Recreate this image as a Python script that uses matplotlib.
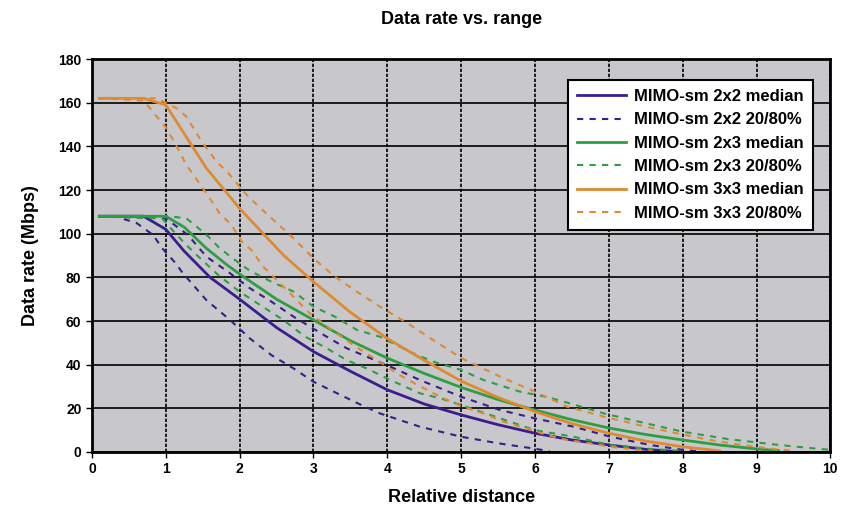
import matplotlib.pyplot as plt

plt.rcParams['font.family'] = ['Liberation Sans', 'DejaVu Sans']
plt.rcParams['font.weight'] = 'bold'

# 2x2
x22_med = [0.1, 0.7, 1.0, 1.25, 1.6, 2.0, 2.5, 3.0, 3.5, 4.0, 4.5, 5.0, 5.5, 6.0, 6.5, 7.0, 7.5, 8.0]
y22_med = [108, 108, 102, 92, 80, 70, 57, 46, 37, 28.5, 22, 17, 12.5, 8.6, 5.5, 3.2, 1.2, 0]
x22_lo = [0.1, 0.3, 0.6, 0.83, 0.95, 1.12, 1.23, 1.55, 1.87, 2.14, 2.43, 2.73, 3.0, 3.32, 3.6, 3.9, 4.44, 5.0, 5.5, 6.0, 6.2]
y22_lo = [108, 108, 105, 99.4, 93.4, 87, 82, 69.6, 60.5, 52, 44.4, 38.3, 32.2, 26.9, 22.3, 17.7, 11.6, 7, 4, 1.5, 0.3]
x22_hi = [0.1, 1.0, 1.3, 1.55, 1.87, 2.14, 2.43, 2.73, 3.18, 3.45, 3.72, 4.04, 4.44, 5.0, 5.53, 6.0, 6.52, 7.02, 7.56, 8.0, 8.2]
y22_hi = [108, 107, 99.4, 89.5, 81.9, 75, 68.9, 62, 52.8, 47.5, 43.7, 39.1, 33, 25.3, 19.2, 15.4, 11.6, 7, 3.2, 1, 0.3]

# 2x3
x23_med = [0.1, 1.0, 1.25, 1.55, 1.83, 2.0, 2.5, 3.0, 3.5, 4.0, 4.5, 5.0, 5.5, 6.0, 6.5, 7.0, 7.5, 8.0, 8.5, 9.0, 9.3]
y23_med = [108, 108, 103, 93.3, 85.7, 81.5, 70, 60.5, 51, 43, 36, 29.6, 24, 19.2, 14.8, 11, 8, 5.5, 3.2, 1.4, 0.6]
x23_lo = [0.1, 0.95, 1.15, 1.28, 1.42, 1.71, 2.0, 2.28, 2.59, 2.89, 3.18, 3.45, 3.72, 4.04, 4.44, 4.72, 5.0, 5.53, 6.0, 6.52, 7.02, 7.56, 8.0]
y23_lo = [108, 107, 99.4, 94.8, 90.2, 81.1, 73.4, 67.3, 60.5, 52.8, 47.5, 42.1, 38.3, 33, 26.9, 24.6, 21.5, 15.4, 10, 7, 3.2, 1.4, 0.5]
x23_hi = [0.1, 1.05, 1.28, 1.42, 1.58, 1.71, 1.85, 2.0, 2.14, 2.43, 2.73, 3.0, 3.29, 3.59, 3.9, 4.35, 4.62, 5.0, 5.3, 5.8, 6.15, 6.5, 6.93, 7.47, 8.0, 8.64, 9.23, 9.82, 10.0]
y23_hi = [108, 108, 107, 103.2, 98.6, 94, 90.2, 86.4, 83, 78, 73.5, 66.6, 62, 55.9, 52.8, 45.2, 41.4, 37.6, 33, 27.6, 25.3, 22, 17.7, 13.4, 9.3, 5.8, 3.5, 1.5, 1]

# 3x3
x33_med = [0.1, 0.7, 1.0, 1.55, 2.0, 2.32, 2.6, 3.0, 3.5, 4.0, 4.5, 5.0, 5.5, 6.0, 6.5, 7.0, 7.5, 8.0, 8.5]
y33_med = [162, 162, 159, 130, 111.6, 100, 90, 78, 64, 52, 42, 32.5, 25, 18.5, 13, 8.6, 5, 2.4, 0.5]
x33_lo = [0.1, 0.7, 0.88, 1.01, 1.15, 1.28, 1.44, 1.58, 1.73, 1.89, 2.03, 2.16, 2.32, 2.64, 2.95, 3.25, 3.54, 3.86, 4.13, 4.43, 4.72, 5.01, 5.3, 5.57, 5.89, 6.16, 6.43, 6.74, 7.02, 7.33, 7.6]
y33_lo = [162, 161, 153.6, 148.3, 139.9, 131.5, 123.8, 117, 109.3, 104, 96.3, 92.5, 84.9, 74.2, 63.5, 55.9, 49, 42.1, 36, 30.3, 25.3, 20.8, 17.7, 13.9, 10.8, 7.8, 5.5, 4, 2.4, 1.2, 0.3]
x33_hi = [0.1, 0.88, 1.15, 1.28, 1.49, 1.69, 1.87, 2.0, 2.14, 2.41, 2.73, 3.0, 3.29, 3.59, 3.9, 4.31, 4.62, 5.01, 5.53, 6.0, 6.43, 6.93, 7.5, 8.0, 8.37, 8.8, 9.23, 9.5]
y33_hi = [162, 162, 157.4, 153.6, 142, 133, 126.9, 121.5, 116.2, 107.8, 97.9, 88.7, 80.3, 73.4, 66.6, 58.2, 51.3, 42.9, 34.5, 27.6, 20.8, 16.2, 11.6, 8, 5.5, 3.2, 1.4, 0.5]

purple = '#3a1e8c'
green = '#2e9e44'
orange = '#e08a30'
dash = (0, (3, 3))

fig, ax = plt.subplots(figsize=(8.43, 5.09), dpi=100)
fig.subplots_adjust(left=0.109, right=0.985, bottom=0.112, top=0.884)
ax.set_facecolor('#c8c8cc')

ax.plot(x22_med, y22_med, color=purple, lw=2, label='MIMO-sm 2x2 median')
ax.plot(x22_lo, y22_lo, color=purple, lw=1.5, ls=dash, label='MIMO-sm 2x2 20/80%')
ax.plot(x22_hi, y22_hi, color=purple, lw=1.5, ls=dash)
ax.plot(x23_med, y23_med, color=green, lw=2, label='MIMO-sm 2x3 median')
ax.plot(x23_lo, y23_lo, color=green, lw=1.5, ls=dash, label='MIMO-sm 2x3 20/80%')
ax.plot(x23_hi, y23_hi, color=green, lw=1.5, ls=dash)
ax.plot(x33_med, y33_med, color=orange, lw=2, label='MIMO-sm 3x3 median')
ax.plot(x33_lo, y33_lo, color=orange, lw=1.5, ls=dash, label='MIMO-sm 3x3 20/80%')
ax.plot(x33_hi, y33_hi, color=orange, lw=1.5, ls=dash)

ax.set_xlim(0, 10)
ax.set_ylim(0, 180)
ax.set_xticks(range(0, 11))
ax.set_yticks(range(0, 181, 20))
ax.yaxis.grid(True, color='black', lw=1.2, ls='-')
ax.xaxis.grid(True, color='black', lw=1.2, ls=(0, (2, 1)))
ax.set_axisbelow(True)
for s in ax.spines.values():
    s.set_linewidth(2)
ax.tick_params(labelsize=10, length=4, width=1)

ax.set_title('Data rate vs. range', fontsize=13, fontweight='bold', pad=25)
ax.set_xlabel('Relative distance', fontsize=13, fontweight='bold', labelpad=9)
ax.set_ylabel('Data rate (Mbps)', fontsize=13, fontweight='bold', labelpad=14)

leg = ax.legend(loc='upper right', bbox_to_anchor=(0.976, 0.947), fontsize=12,
                frameon=True, fancybox=False, framealpha=1, edgecolor='black',
                handlelength=2.9, handletextpad=0.5, labelspacing=0.5,
                borderpad=0.55, borderaxespad=0)
leg.get_frame().set_linewidth(1.5)

fig.savefig('out.png')
